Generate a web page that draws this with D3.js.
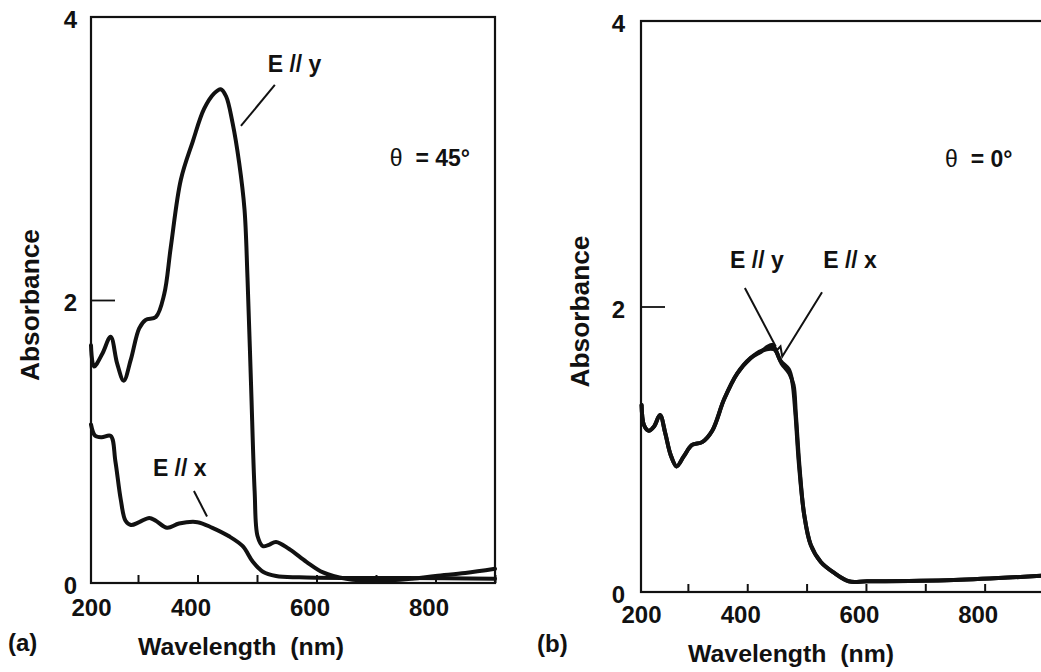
<!DOCTYPE html>
<html>
<head>
<meta charset="utf-8">
<script src="https://cdn.jsdelivr.net/npm/d3@7"></script>
<style>
  body { margin: 0; background: #fff; }
  text { font-family: "Liberation Sans", Arial, sans-serif; font-weight: bold; fill: #111; }
</style>
</head>
<body>
<svg id="chart" width="1041" height="672"></svg>
<script>
// axis values
const xTicks = [300, 400, 500, 600, 700, 800, 900];
const xLabels = [200, 400, 600, 800];
const yLabels = [0, 2, 4];

// (a) theta = 45 deg
const wlAy  = [221, 226, 240, 254, 265, 276, 288, 302, 313, 330, 344, 355, 372, 392, 411, 428, 439, 448, 459, 470, 479, 484, 490, 496, 501, 510, 520, 532, 554, 583, 611, 650, 700, 760, 800, 850, 900];
const absAy = [1.68, 1.53, 1.62, 1.74, 1.55, 1.43, 1.58, 1.80, 1.86, 1.88, 2.04, 2.37, 2.85, 3.12, 3.35, 3.46, 3.49, 3.44, 3.25, 2.97, 2.64, 2.16, 1.40, 0.65, 0.33, 0.26, 0.27, 0.29, 0.24, 0.15, 0.075, 0.03, 0.015, 0.03, 0.05, 0.07, 0.10];
const wlAx  = [221, 228, 239, 254, 262, 271, 279, 288, 302, 319, 330, 349, 369, 400, 425, 453, 476, 493, 510, 532, 571, 650, 750, 900];
const absAx = [1.12, 1.04, 1.03, 1.04, 0.86, 0.59, 0.44, 0.41, 0.43, 0.46, 0.44, 0.39, 0.42, 0.43, 0.39, 0.33, 0.26, 0.15, 0.08, 0.05, 0.04, 0.035, 0.035, 0.03];

// (b) theta = 0 deg
const wlBy  = [222, 226, 234, 243, 253, 262, 271, 281, 293, 307, 324, 341, 361, 383, 406, 422, 442, 456, 470, 476, 481, 487, 496, 507, 524, 546, 571, 602, 748, 900];
const absBy = [1.31, 1.17, 1.13, 1.16, 1.24, 1.11, 0.96, 0.88, 0.95, 1.03, 1.05, 1.13, 1.35, 1.53, 1.64, 1.68, 1.73, 1.62, 1.56, 1.47, 1.26, 0.90, 0.54, 0.33, 0.21, 0.135, 0.075, 0.075, 0.084, 0.115];
const wlBx  = [222, 226, 234, 243, 253, 262, 271, 281, 293, 307, 324, 341, 361, 383, 406, 424, 445, 458, 471, 478, 482, 488, 496, 507, 524, 546, 571, 602, 748, 900];
const absBx = [1.31, 1.17, 1.13, 1.16, 1.24, 1.11, 0.96, 0.88, 0.95, 1.03, 1.05, 1.13, 1.35, 1.53, 1.64, 1.69, 1.70, 1.60, 1.53, 1.45, 1.24, 0.88, 0.54, 0.33, 0.21, 0.135, 0.075, 0.075, 0.084, 0.115];

const svg = d3.select("#chart");
svg.append("rect").attr("width", 1041).attr("height", 672).attr("fill", "#fff");

function panel(opt) {
  const x = d3.scaleLinear().domain([221, 900]).range([opt.left, opt.right]).clamp(true);
  const y = d3.scaleLinear().domain([0, 4]).range([opt.bottom, opt.top]);
  const g = svg.append("g");

  // frame
  g.append("rect")
    .attr("x", opt.left).attr("y", opt.top)
    .attr("width", opt.right - opt.left).attr("height", opt.bottom - opt.top)
    .attr("fill", "none").attr("stroke", "#111").attr("stroke-width", 2.2);

  // ticks pointing inward
  g.append("g")
    .attr("transform", `translate(0,${opt.bottom})`)
    .call(d3.axisBottom(x).tickValues(xTicks).tickSize(-8).tickSizeOuter(0).tickFormat(""))
    .call(a => a.select(".domain").remove())
    .selectAll("line").attr("stroke", "#111").attr("stroke-width", 2);

  g.append("g")
    .attr("transform", `translate(0,${opt.bottom})`)
    .call(d3.axisBottom(x).tickValues(xLabels).tickSize(0).tickPadding(opt.xPad).tickFormat(d3.format("d")))
    .call(a => a.select(".domain").remove())
    .selectAll("text")
      .attr("font-size", 24).attr("font-family", null)
      .attr("dx", d => d === 200 ? 0 : -7);

  g.append("g")
    .attr("transform", `translate(${opt.left},0)`)
    .call(d3.axisLeft(y).tickValues([2]).tickSize(-24).tickFormat(""))
    .call(a => a.select(".domain").remove())
    .selectAll("line").attr("stroke", "#111").attr("stroke-width", 1.8);

  g.append("g")
    .attr("transform", `translate(${opt.left},0)`)
    .call(d3.axisLeft(y).tickValues(yLabels).tickSize(0).tickPadding(opt.yPad).tickFormat(d3.format("d")))
    .call(a => a.select(".domain").remove())
    .selectAll("text")
      .attr("font-size", 24).attr("font-family", null).attr("dy", "0.45em");

  // spectra
  const line = d3.line().x(d => x(d[0])).y(d => y(d[1])).curve(d3.curveCatmullRom.alpha(0.5));
  opt.series.forEach(s => {
    g.append("path")
      .datum(d3.zip(s.wl, s.abs))
      .attr("d", line)
      .attr("fill", "none").attr("stroke", "#111")
      .attr("stroke-width", 4).attr("stroke-linejoin", "round").attr("stroke-linecap", "round");
  });

  // labels and leader lines (placed in data coordinates)
  opt.notes.forEach(n => {
    g.append("text").attr("x", x(n.at[0])).attr("y", y(n.at[1]))
      .attr("font-size", 23).text(n.text);
    g.append("path")
      .attr("d", d3.line()(n.leader.map(p => [x(p[0]), y(p[1])])))
      .attr("fill", "none").attr("stroke", "#111").attr("stroke-width", 2);
  });

  const th = g.append("text").attr("x", x(opt.theta.at[0])).attr("y", y(opt.theta.at[1])).attr("font-size", 23);
  th.append("tspan").attr("font-weight", "normal").text("θ");
  th.append("tspan").attr("dx", 13).text("= " + opt.theta.text);

  // axis titles
  g.append("text")
    .attr("transform", `translate(${opt.left - 52},${(opt.top + opt.bottom) / 2 + 5}) rotate(-90)`)
    .attr("text-anchor", "middle").attr("font-size", 25)
    .attr("textLength", 152).attr("lengthAdjust", "spacingAndGlyphs")
    .text("Absorbance");

  g.append("text")
    .attr("x", opt.left + 150).attr("y", opt.bottom + opt.titlePad)
    .attr("text-anchor", "middle").attr("font-size", 24)
    .attr("textLength", 206).attr("lengthAdjust", "spacingAndGlyphs")
    .attr("xml:space", "preserve")
    .text("Wavelength  (nm)");

  g.append("text")
    .attr("x", opt.left - opt.tagDx).attr("y", opt.bottom + opt.tagDy)
    .attr("font-size", 24)
    .text(opt.tag);
}

panel({
  left: 91, right: 495, top: 17, bottom: 583, xPad: 16, yPad: 14, titlePad: 72, tag: "(a)", tagDx: 83, tagDy: 68,
  series: [{ wl: wlAy, abs: absAy }, { wl: wlAx, abs: absAx }],
  notes: [
    { text: "E // y", at: [518, 3.61], leader: [[530, 3.52], [473, 3.23]] },
    { text: "E // x", at: [325, 0.755], leader: [[394, 0.65], [416, 0.47]] }
  ],
  theta: { text: "45°", at: [723, 2.95] }
});

panel({
  left: 641, right: 1044, top: 21, bottom: 592, xPad: 14, yPad: 16, titlePad: 70, tag: "(b)", tagDx: 104, tagDy: 60,
  series: [{ wl: wlBy, abs: absBy }, { wl: wlBx, abs: absBx }],
  notes: [
    { text: "E // y", at: [371, 2.27], leader: [[396, 2.13], [448, 1.72]] },
    { text: "E // x", at: [528, 2.27], leader: [[526, 2.10], [459, 1.65], [456, 1.72], [449, 1.69]] }
  ],
  theta: { text: "0°", at: [733, 2.98] }
});
</script>
</body>
</html>
